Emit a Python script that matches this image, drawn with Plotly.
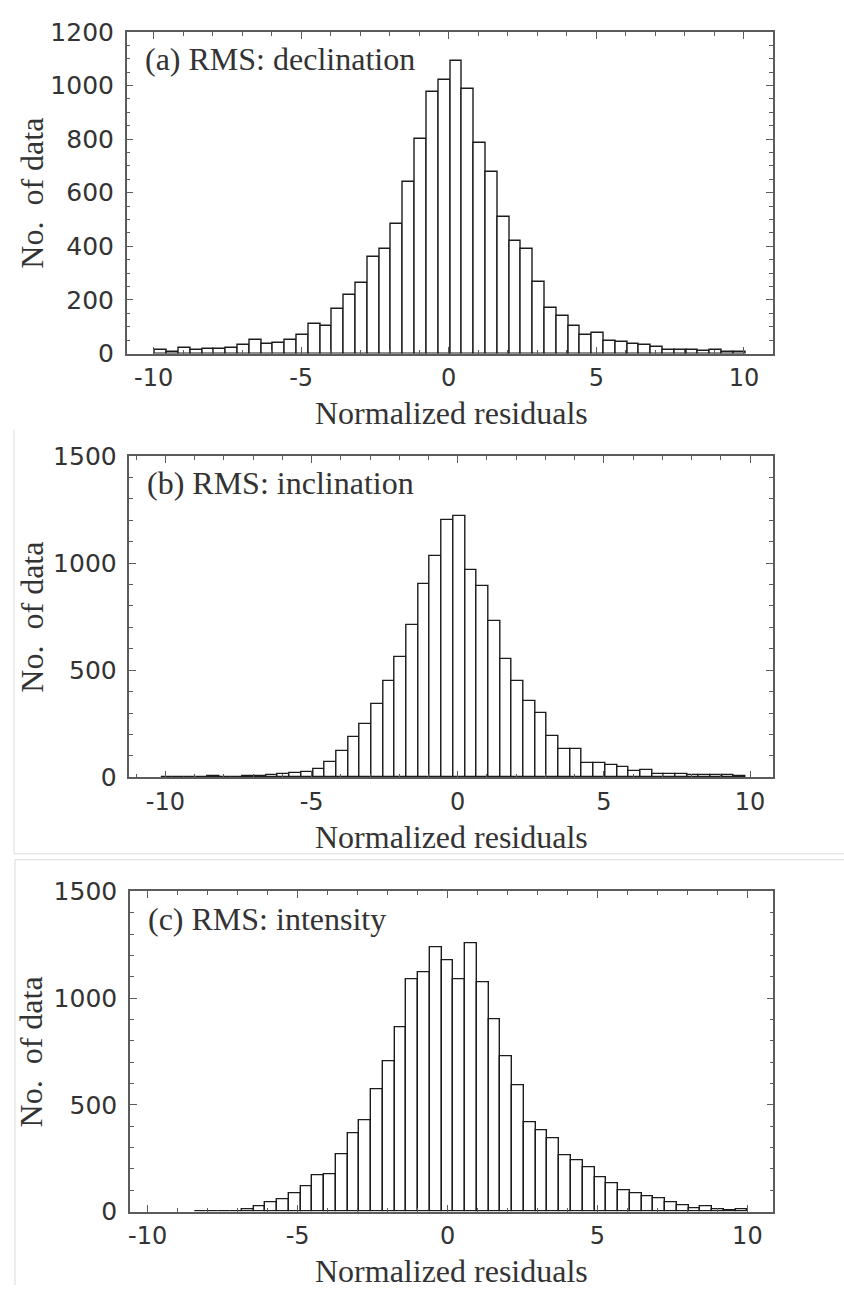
import numpy as np
import plotly.graph_objects as go

W, H = 844, 1300

# Histogram counts of normalized residuals (bin grid: start, width, counts)
decl_start, decl_width = -9.95, 0.4
decl_counts = [14, 6, 20, 14, 17, 17, 20, 33, 51, 35,
               39, 51, 69, 109, 103, 168, 220, 265, 360, 390,
               485, 639, 802, 976, 1020, 1091, 988, 787, 677, 509,
               420, 390, 269, 170, 140, 102, 71, 77, 48, 42,
               35, 33, 24, 12, 12, 14, 9, 12, 6, 6]

incl_start, incl_width = -10.15, 0.4
incl_counts = [2, 3, 1, 3, 6, 3, 3, 6, 6, 11,
               15, 18, 26, 38, 69, 122, 186, 247, 342, 450,
               559, 712, 900, 1034, 1200, 1222, 968, 891, 731, 552,
               450, 354, 299, 194, 131, 131, 67, 67, 57, 49,
               29, 34, 15, 15, 15, 11, 8, 11, 11, 6]

intens_start, intens_width = -10.0, 20 / 51
intens_counts = [0, 0, 0, 0, 2, 2, 3, 4, 10, 23,
                 46, 58, 87, 117, 171, 174, 270, 369, 427, 575,
                 702, 865, 1086, 1121, 1236, 1179, 1088, 1256, 1072, 900,
                 728, 590, 418, 381, 342, 264, 241, 209, 160, 133,
                 99, 87, 73, 61, 46, 31, 15, 23, 12, 8, 12]

x_ticks = [-10, -5, 0, 5, 10]
x_ticktext = ["-10", "-5", "0", "5", "10"]
y_ticks_a = [0, 200, 400, 600, 800, 1000, 1200]
y_ticks_bc = [0, 500, 1000, 1500]

panel_titles = ["(a) RMS: declination", "(b) RMS: inclination", "(c) RMS: intensity"]
x_title = "Normalized residuals"
y_title = "No.\u00a0 of data"

# frame boxes in pixels: left, top, right, bottom; plus axis ranges
panels = [
    dict(box=(125.0, 18.3, 772.7, 347.3), xr=[-10.91, 10.98], yr=[0, 1200],
         yt=y_ticks_a, ymin=50, start=decl_start, width=decl_width, counts=decl_counts),
    dict(box=(127.8, 452.2, 772.7, 780.7), xr=[-11.23, 10.78], yr=[0, 1500],
         yt=y_ticks_bc, ymin=100, start=incl_start, width=incl_width, counts=incl_counts),
    dict(box=(128.3, 897.3, 773.3, 1225.0), xr=[-10.59, 10.87], yr=[0, 1500],
         yt=y_ticks_bc, ymin=100, start=intens_start, width=intens_width, counts=intens_counts),
]

def px(x):
    return x / W

def py(y):
    return 1 - y / H

TEXT = "#333333"
LINE = "#5c5c5c"
serif = dict(family="Liberation Serif", size=32, color=TEXT)
sans_x = dict(family="DejaVu Sans", size=24, color=TEXT)
sans_y = dict(family="DejaVu Sans", size=25, color=TEXT)

fig = go.Figure()
layout = dict(width=W, height=H, margin=dict(l=0, r=0, t=0, b=0),
              paper_bgcolor="white", plot_bgcolor="white",
              showlegend=False, bargap=0, barmode="overlay",
              annotations=[], shapes=[])

for i, p in enumerate(panels):
    n = i + 1
    xa = "x" if n == 1 else f"x{n}"
    ya = "y" if n == 1 else f"y{n}"
    counts = np.array(p["counts"], dtype=float)
    centers = p["start"] + p["width"] * (np.arange(len(counts)) + 0.5)
    filled = counts > 0          # empty bins draw nothing
    fig.add_trace(go.Bar(
        x=centers[filled], y=counts[filled], width=p["width"], xaxis=xa, yaxis=ya,
        marker=dict(color="white", line=dict(color="#1c1c1c", width=1.4)),
        hoverinfo="x+y"))

    l, t, r, b = p["box"]
    common = dict(showline=True, linecolor=LINE, linewidth=1.5, mirror="ticks",
                  ticks="inside", ticklen=7, tickwidth=1.2, tickcolor=LINE,
                  showgrid=False, zeroline=False)
    layout[f"xaxis{'' if n == 1 else n}"] = dict(
        common, domain=[px(l), px(r)], range=p["xr"], anchor=ya,
        tickmode="array", tickvals=x_ticks, ticktext=x_ticktext,
        tickfont=sans_x, ticklabelstandoff=2,
        minor=dict(ticks="inside", ticklen=4, tickwidth=1, tickcolor=LINE,
                   tickmode="linear", tick0=0, dtick=1))
    layout[f"yaxis{'' if n == 1 else n}"] = dict(
        common, domain=[py(b), py(t)], range=p["yr"], anchor=xa,
        tickmode="array", tickvals=p["yt"], ticktext=[str(v) for v in p["yt"]],
        tickfont=sans_y, ticklabelstandoff=6,
        minor=dict(ticks="inside", ticklen=4, tickwidth=1, tickcolor=LINE,
                   tickmode="linear", tick0=0, dtick=p["ymin"]))

    layout["annotations"].append(dict(
        text=panel_titles[i], xref="paper", yref="paper",
        x=px(l + 16), y=py(t + 28), xanchor="left", yanchor="middle",
        showarrow=False, font=serif))
    layout["annotations"].append(dict(
        text=x_title, xref="paper", yref="paper",
        x=px(451), y=py(b + 61), xanchor="center", yanchor="middle",
        showarrow=False, font=serif))
    layout["annotations"].append(dict(
        text=y_title, xref="paper", yref="paper", textangle=-90,
        x=px(30), y=py((t + b) / 2), xanchor="center", yanchor="middle",
        showarrow=False, font=serif))

# faint borders around the lower two panels
sep = dict(type="line", xref="paper", yref="paper",
           line=dict(color="#dcdcdc", width=1))
layout["shapes"] += [
    dict(sep, x0=px(12), x1=px(12), y0=py(425), y1=py(859)),
    dict(sep, x0=px(12), x1=px(844), y0=py(859), y1=py(859)),
    dict(sep, x0=px(13), x1=px(844), y0=py(865), y1=py(865)),
    dict(sep, x0=px(13), x1=px(13), y0=py(865), y1=py(1300)),
]

fig.update_layout(**layout)
fig.write_html("out.html")
